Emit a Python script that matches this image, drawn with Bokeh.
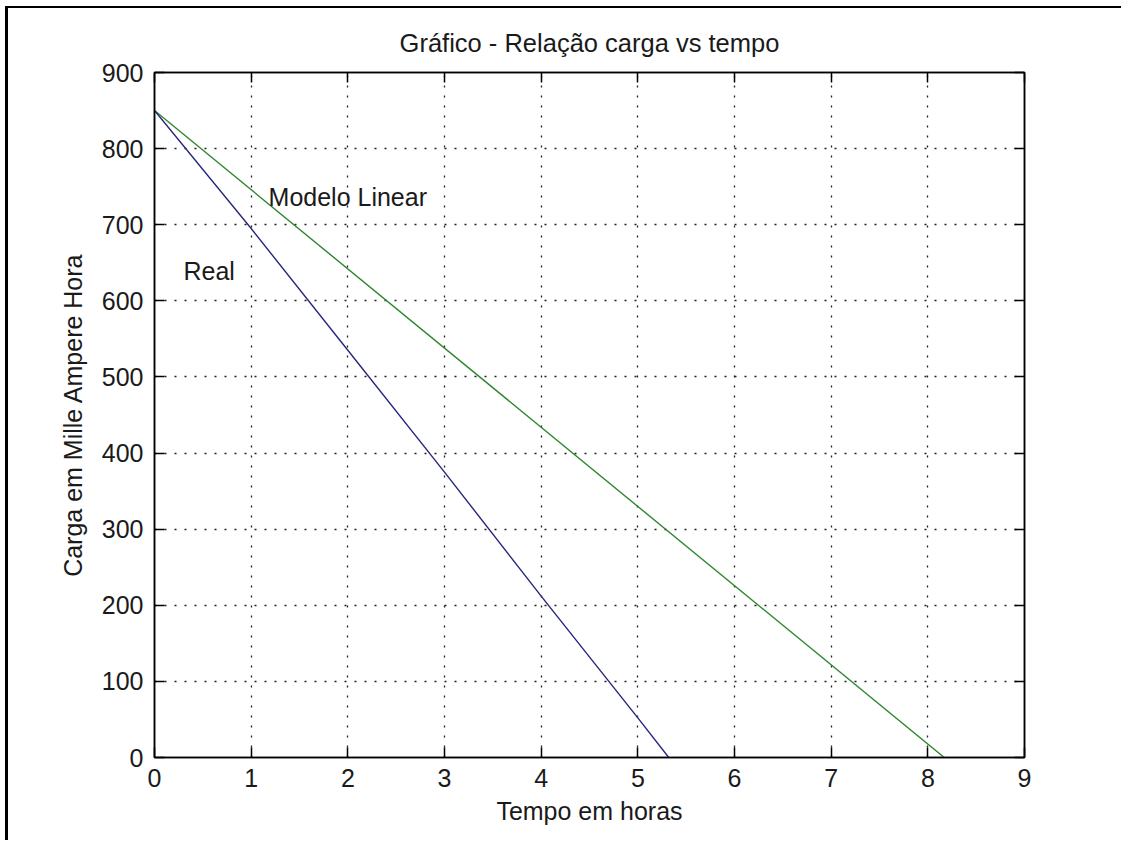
from bokeh.plotting import figure
from bokeh.models import LinearAxis, Range1d, FixedTicker, ColumnDataSource
from bokeh.core.properties import value
from bokeh.embed import file_html
from bokeh.resources import INLINE

# ---- data ----
tempo_real = [0, 1, 2, 3, 4, 5, 5.32]
carga_real = [850, 695, 535, 375, 212, 52, 0]

tempo_linear = [0, 8.17]
carga_linear = [850, 0]

x_ticks = [0, 1, 2, 3, 4, 5, 6, 7, 8, 9]
y_ticks = [0, 100, 200, 300, 400, 500, 600, 700, 800, 900]

label_x = [1.18, 0.30]
label_y = [737, 639]
label_text = ["Modelo Linear", "Real"]

title_text = "Gráfico - Relação carga vs tempo"
x_label = "Tempo em horas"
y_label = "Carga em Mille Ampere Hora"

FONT = "Liberation Sans"
FS = "25px"
TXT = "#1a1a1a"

p = figure(width=1116, height=834,
           x_range=Range1d(0, 9), y_range=Range1d(0, 900),
           output_backend="svg", toolbar_location=None,
           min_border_left=146, min_border_right=100,
           min_border_top=64, min_border_bottom=85,
           title=title_text)
p.styles = {"margin-left": "8px", "margin-top": "8px",
            "box-shadow": "-3px -2px 0 0 black"}

p.title.align = "center"
p.title.text_font = FONT
p.title.text_font_size = "25.5px"
p.title.text_font_style = "normal"
p.title.text_color = TXT
p.title.standoff = 32

p.outline_line_color = "black"
p.outline_line_width = 1.5
p.background_fill_color = "white"
p.border_fill_color = "white"

def style_axis(ax, ticks, show_labels=True):
    ax.ticker = FixedTicker(ticks=ticks)
    ax.major_tick_in = 10
    ax.major_tick_out = 0
    ax.minor_tick_in = 0
    ax.minor_tick_out = 0
    ax.major_tick_line_color = "black"
    ax.major_tick_line_width = 1.5
    ax.axis_line_color = "black"
    ax.axis_line_width = 1.5
    ax.major_label_text_font = FONT
    ax.major_label_text_font_size = FS
    ax.major_label_text_color = TXT
    ax.major_label_standoff = 11
    ax.axis_label_text_font = FONT
    ax.axis_label_text_font_size = FS
    ax.axis_label_text_font_style = "normal"
    ax.axis_label_text_color = TXT
    if not show_labels:
        ax.major_label_overrides = {t: "" for t in ticks}
        ax.major_label_standoff = 0

style_axis(p.xaxis[0], x_ticks)
style_axis(p.yaxis[0], y_ticks)
p.xaxis[0].axis_label = x_label
p.yaxis[0].axis_label = y_label
p.xaxis[0].axis_label_standoff = 7
p.yaxis[0].axis_label_standoff = 12

top_ax = LinearAxis()
right_ax = LinearAxis()
style_axis(top_ax, x_ticks, show_labels=False)
style_axis(right_ax, y_ticks, show_labels=False)
p.add_layout(top_ax, "above")
p.add_layout(right_ax, "right")

for g, ticks in ((p.xgrid[0], x_ticks), (p.ygrid[0], y_ticks)):
    g.ticker = FixedTicker(ticks=ticks)
    g.grid_line_color = "#202020"
    g.grid_line_dash = "2 8"
    g.grid_line_width = 1.3

src_real = ColumnDataSource(dict(t=tempo_real, c=carga_real))
src_lin = ColumnDataSource(dict(t=tempo_linear, c=carga_linear))
p.line("t", "c", source=src_lin, line_color="#2f862f", line_width=1.4)
p.line("t", "c", source=src_real, line_color="#26267e", line_width=1.4)

src_lab = ColumnDataSource(dict(x=label_x, y=label_y, text=label_text))
p.text("x", "y", text="text", source=src_lab, text_font=value(FONT),
       text_font_size=value(FS), text_color=TXT, text_baseline="alphabetic",
       text_align="left")

open("out.html", "w").write(file_html(p, INLINE))
